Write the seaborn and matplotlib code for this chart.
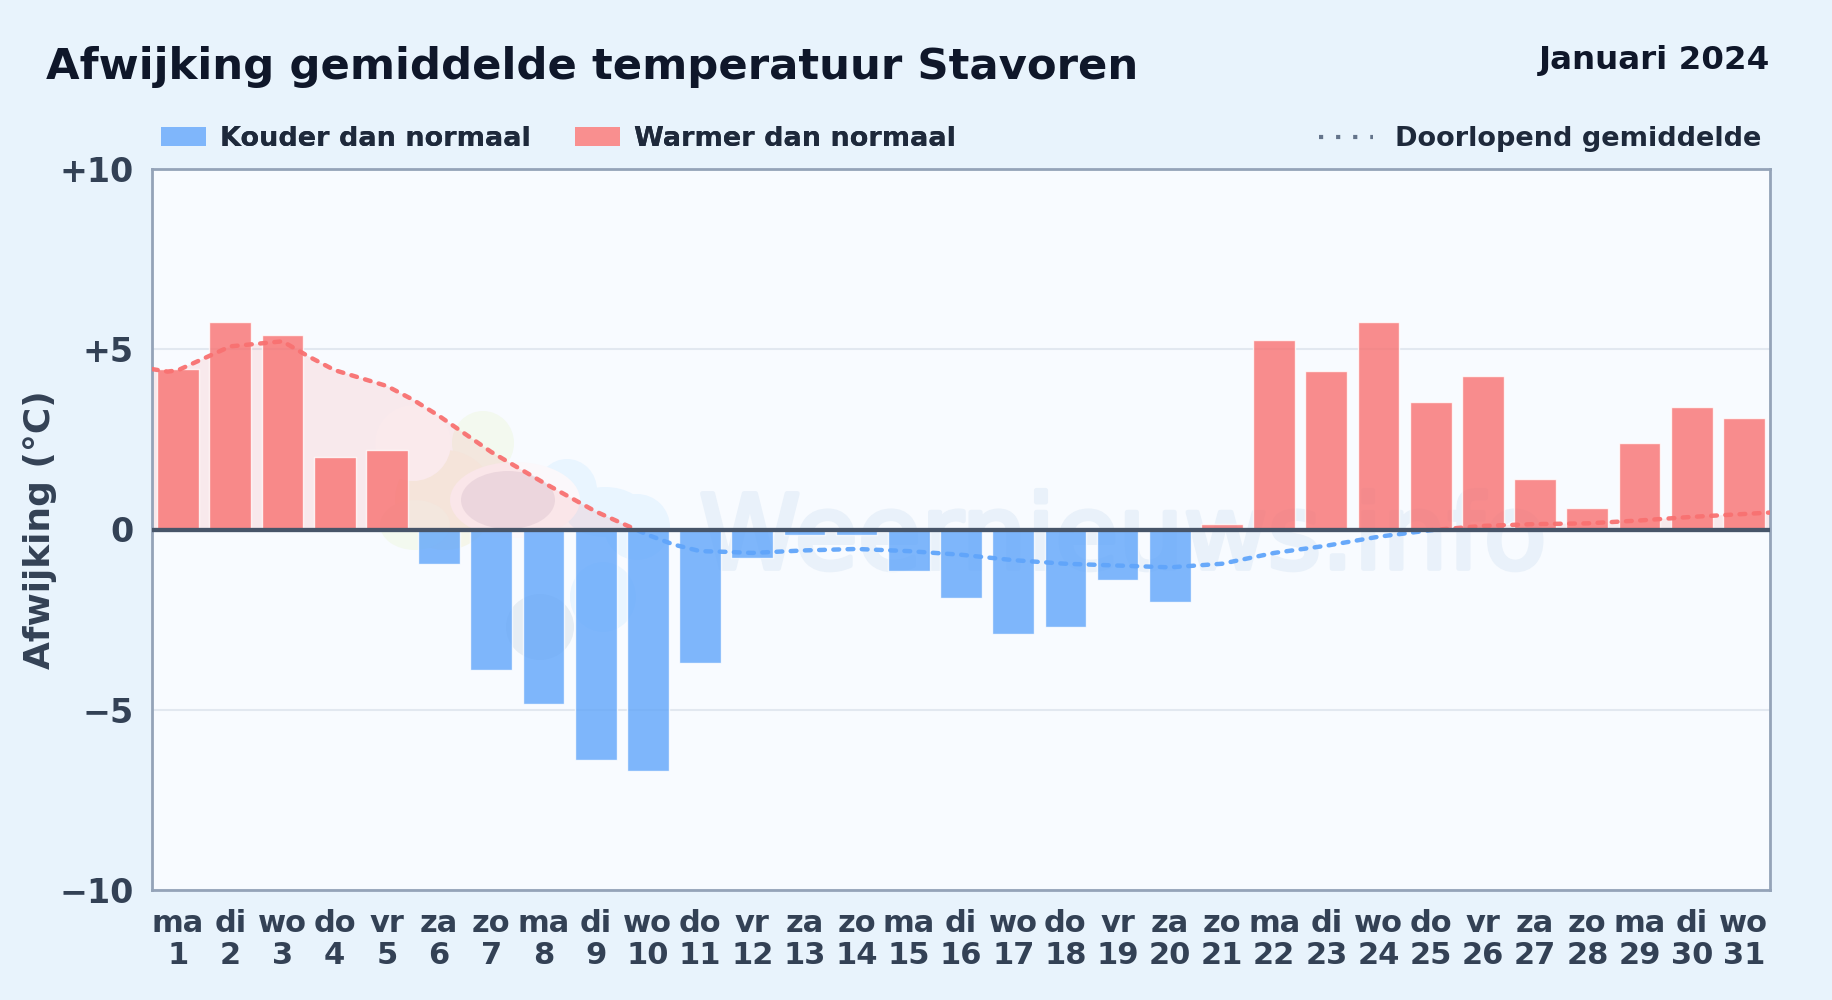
import pandas as pd
import matplotlib
matplotlib.use("Agg")
import matplotlib.pyplot as plt
import matplotlib.patheffects as pe
import seaborn as sns
from matplotlib.lines import Line2D
from matplotlib.patches import Ellipse, Patch, Rectangle

# Afwijking per dag
dagen = ['ma', 'di', 'wo', 'do', 'vr', 'za', 'zo'] * 4 + ['ma', 'di', 'wo']
afwijking = [4.45, 5.75, 5.4, 2.0, 2.2, -0.95, -3.9, -4.85, -6.4, -6.7, -3.7,
             -0.8, -0.15, -0.15, -1.15, -1.9, -2.9, -2.7, -1.4, -2.0, 0.15,
             5.25, 4.4, 5.75, 3.55, 4.25, 1.4, 0.6, 2.4, 3.4, 3.1]

lijn_x = [-0.5, -0.2, 0, 0.5, 1, 1.5, 2, 2.5, 3, 3.5, 4, 4.5, 5, 6, 7, 8, 9,
          9.5, 10, 10.5, 11, 12, 13, 14, 15, 16, 17, 18, 19, 20, 21, 22, 23,
          24, 25, 26, 27, 28, 29, 30, 30.5]
lijn_y = [4.45, 4.38, 4.42, 4.75, 5.08, 5.15, 5.22, 4.8, 4.42, 4.2, 3.98, 3.6,
          3.15, 2.15, 1.3, 0.5, -0.15, -0.42, -0.6, -0.62, -0.65, -0.58, -0.54,
          -0.6, -0.7, -0.85, -0.95, -1.0, -1.05, -0.95, -0.65, -0.45, -0.2,
          -0.02, 0.1, 0.15, 0.17, 0.25, 0.35, 0.43, 0.47]

tick_y = [-10, -5, 0, 5, 10]
tick_y_labels = ['\u221210', '\u22125', '0', '+5', '+10']

ROOD = '#f87171'
BLAUW = '#60a5fa'

labels = [f'{d}\n{i + 1}' for i, d in enumerate(dagen)]
df = pd.DataFrame({'label': labels, 'afwijking': afwijking})
df['soort'] = ['warm' if w > 0 else 'koud' for w in afwijking]
lijn = pd.DataFrame({'x': lijn_x, 'y': lijn_y})

sns.set_theme(style="white")
plt.rcParams['font.family'] = ['DejaVu Sans']
plt.rcParams['font.weight'] = 'bold'

fig = plt.figure(figsize=(18.32, 10), dpi=100, facecolor='#e8f3fc')
ax = fig.add_axes([152 / 1832, 1 - 890 / 1000, 1618 / 1832, 721 / 1000], facecolor='#f8fbff')

# Watermerk: logo en tekst, posities in pixels van de figuur
def schijf(x, y, b, h, kleur):
    ax.add_patch(Ellipse(((x - 152) / 1618, (890 - y) / 721), b / 1618, h / 721,
                         transform=ax.transAxes, color=kleur, lw=0, zorder=0))

schijf(483, 443, 62, 64, '#f3f9ef')
schijf(445, 500, 100, 100, '#f5f6ea')
schijf(415, 525, 70, 50, '#f3f9ef')
schijf(413, 443, 76, 76, '#fbfcff')
schijf(567, 490, 60, 62, '#e9f5ff')
schijf(605, 512, 80, 50, '#e9f5ff')
schijf(637, 527, 66, 66, '#e9f5ff')
schijf(603, 597, 66, 70, '#e9f5ff')
schijf(540, 627, 68, 66, '#e6edf4')
schijf(515, 500, 130, 76, '#fbf8fb')
schijf(508, 500, 94, 58, '#ebe6ee')
ax.text(0.6, 0.446, 'Weernieuws.info', transform=ax.transAxes, ha='center',
        va='baseline', fontsize=74, fontweight='normal', color='#e9f1fa', zorder=0,
        path_effects=[pe.withStroke(linewidth=3.5, foreground='#e9f1fa')])

sns.barplot(data=df, x='label', y='afwijking', hue='soort',
            palette={'warm': ROOD, 'koud': BLAUW}, dodge=False, width=0.8,
            alpha=0.8, legend=False, saturation=1, ax=ax, zorder=2)

ax.fill_between(lijn['x'], lijn['y'], 0, where=lijn['y'] >= 0, interpolate=True,
                color=ROOD, alpha=0.13, lw=0, zorder=1)

# Lijn twee keer tekenen: rood boven nul, blauw eronder
for kleur, onder, boven in [(ROOD, 0, 10), (BLAUW, -10, 0)]:
    n = len(ax.lines)
    sns.lineplot(data=lijn, x='x', y='y', color=kleur, sort=False, errorbar=None,
                 linewidth=3.2, ax=ax, zorder=4, alpha=0.95)
    l = ax.lines[n]
    l.set_linestyle((0, (1.3, 1.9)))
    l.set_dash_capstyle('round')
    l.set_clip_path(Rectangle((-0.5, onder), 31, boven - onder, transform=ax.transData))

ax.axhline(0, color='#475569', lw=3.1, zorder=5)

ax.set_xlim(-0.5, 30.5)
ax.set_ylim(-10, 10)
ax.set_yticks(tick_y, tick_y_labels)
ax.grid(axis='y', color='#e2e8f0', lw=1.5, zorder=0)
ax.set_axisbelow(True)
ax.tick_params(axis='x', length=0, pad=13.5, labelsize=22, labelcolor='#334155')
ax.tick_params(axis='y', length=0, pad=13, labelsize=24, labelcolor='#334155')
plt.setp(ax.get_xticklabels(), linespacing=1.12)
ax.set_xlabel('')
ax.set_ylabel('')
fig.text(40 / 1832, 1 - 530 / 1000, 'Afwijking (°C)', rotation=90, ha='center', va='center',
         fontsize=25.9, color='#334155')
for s in ax.spines.values():
    s.set_color('#94a3b8')
    s.set_linewidth(2.0)

fig.text(46 / 1832, 1 - 67 / 1000, 'Afwijking gemiddelde temperatuur Stavoren', ha='left', va='center',
         fontsize=31.25, color='#0f172a')
fig.text(1770 / 1832, 1 - 61 / 1000, 'Januari 2024', ha='right', va='center', fontsize=23.4,
         color='#0f172a')

links = fig.legend(handles=[Patch(color='#7fb6fb', lw=0, label='Kouder dan normaal'),
                            Patch(color='#f98f8f', lw=0, label='Warmer dan normaal')],
                   loc='center left', bbox_to_anchor=(161 / 1832, 1 - 139 / 1000), ncol=2, frameon=False,
                   fontsize=19.5, labelcolor='#1e293b', handlelength=1.65, handleheight=0.75,
                   handletextpad=0.52, columnspacing=1.65, borderpad=0, borderaxespad=0)
fig.add_artist(links)
punten = Line2D([], [], color='#64748b', lw=3, linestyle=(0, (1, 3.1)), label='Doorlopend gemiddelde')
fig.legend(handles=[punten], loc='center right', bbox_to_anchor=(1761 / 1832, 1 - 139 / 1000),
           frameon=False, fontsize=19.5, labelcolor='#1e293b', handlelength=2.0,
           handletextpad=0.8, borderpad=0, borderaxespad=0)

fig.savefig('out.png', dpi=100, facecolor=fig.get_facecolor())
